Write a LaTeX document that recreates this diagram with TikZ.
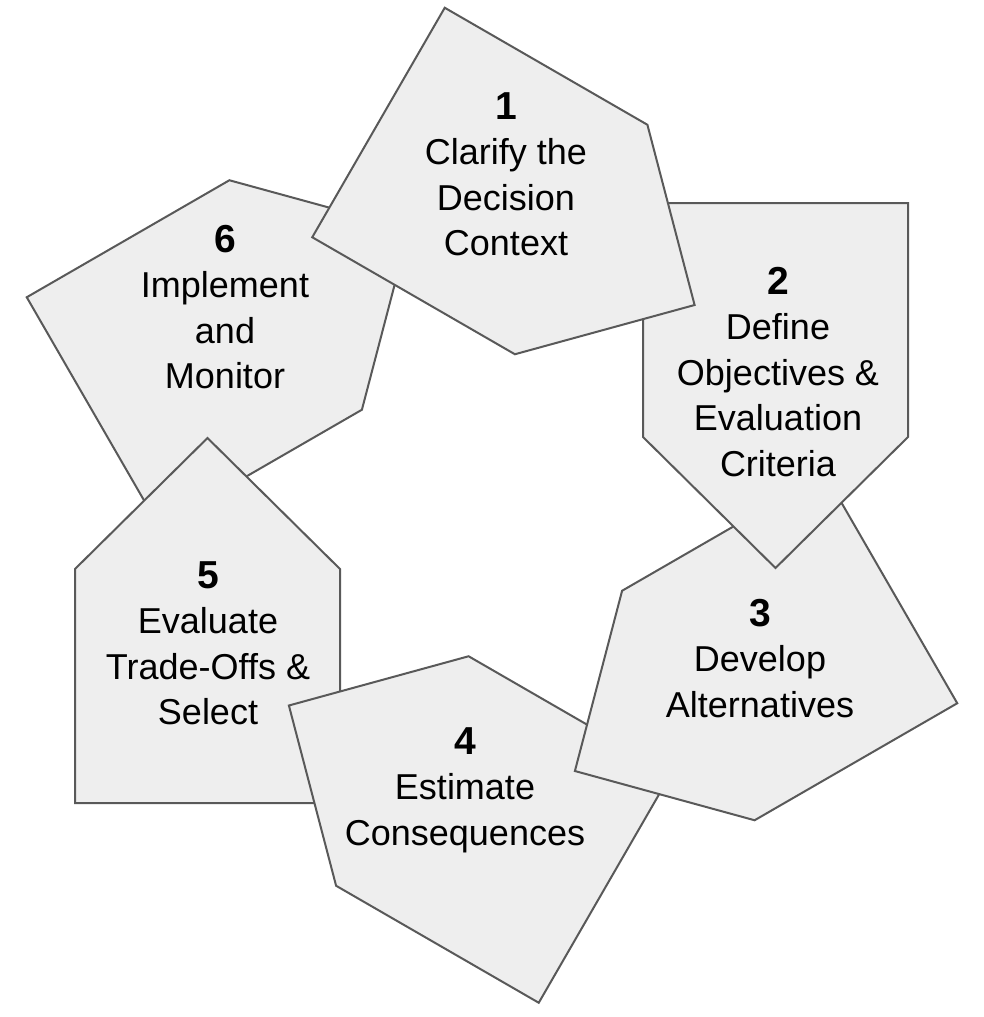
\documentclass[tikz,border=0pt]{standalone}
\usepackage{fontspec}
\usepackage{tikz}
\usepackage{xcolor}
\setmainfont{Liberation Sans}

\definecolor{petalfill}{HTML}{EEEEEE}
\definecolor{petaledge}{HTML}{595959}

\tikzset{
  petal/.pic={
    \draw[fill=petalfill, draw=petaledge, line width=2pt, line join=miter]
      (-132.5,0) -- (132.5,0) -- (132.5,234) -- (0,365) -- (-132.5,234) -- cycle;
  },
  steptext/.style={anchor=base, align=center, font=\fontsize{36}{45.5}\selectfont}
}
\newcommand{\stepnum}[1]{{\fontsize{39}{45.5}\selectfont\bfseries #1}}

\begin{document}
\begin{tikzpicture}[x=1pt, y=-1pt]
        \useasboundingbox (0,0) rectangle (983,1017);

        % petals, back to front
        \pic[rotate=120] at (93,412) {petal};
        \pic[rotate=180] at (207.5,803) {petal};
        \pic[rotate=240] at (605,888) {petal};
        \pic[rotate=-60] at (891,588.5) {petal};
        \pic[rotate=0] at (775.5,203) {petal};
        \pic[rotate=60] at (378.5,122.5) {petal};

        % step texts (anchored at the last baseline)
        \node[steptext] (clarify) at (506,255.5) {\stepnum{1}\\Clarify the\\Decision\\Context};
        \node[steptext] (define) at (778,476) {\stepnum{2}\\Define\\Objectives \&\\Evaluation\\Criteria};
        \node[steptext] (develop) at (760,717) {\stepnum{3}\\Develop\\Alternatives};
        \node[steptext] (estimate) at (465,845) {\stepnum{4}\\Estimate\\Consequences};
        \node[steptext] (evaluate) at (208,724.5) {\stepnum{5}\\Evaluate\\Trade-Offs \&\\Select};
        \node[steptext] (implement) at (225,388.5) {\stepnum{6}\\Implement\\and\\Monitor};
\end{tikzpicture}
\end{document}
